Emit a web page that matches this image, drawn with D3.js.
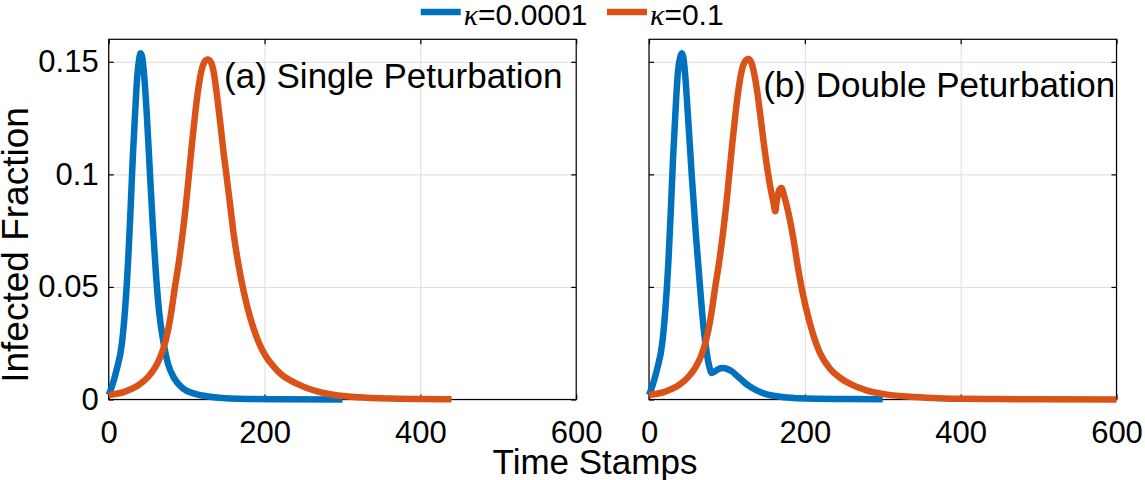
<!DOCTYPE html>
<html>
<head>
<meta charset="utf-8">
<script src="https://cdn.jsdelivr.net/npm/d3@7"></script>
<style>
	body { margin: 0; background: #fff; }
	svg text { font-family: "Liberation Sans", Arial, Helvetica, sans-serif; fill: #000; }
</style>
</head>
<body>
<div id="chart"></div>
<script>
// ----------------------------------
// DATA
// ----------------------------------

const panelTitles = ["(a) Single Peturbation", "(b) Double Peturbation"];
const kappaValues = ["0.0001", "0.1"];
const xTicks = [0, 200, 400, 600];
const yTicks = [0, 0.05, 0.1, 0.15];
const yTickLabels = ["0", "0.05", "0.1", "0.15"];

// (a) single perturbation, kappa = 0.0001
const timeSingleLow = [0, 4, 10, 17, 21, 23, 25, 28, 31, 34, 37, 39, 41, 43, 45, 49, 53, 57, 61, 65, 70, 76, 84, 95, 110, 130, 150, 180, 220, 300];
const infSingleLow = [0.002, 0.0057, 0.013, 0.025, 0.04, 0.05, 0.062, 0.084, 0.108, 0.128, 0.145, 0.151, 0.1538, 0.152, 0.146, 0.126, 0.1, 0.075, 0.054, 0.038, 0.026, 0.016, 0.0095, 0.005, 0.0026, 0.0012, 0.0006, 0.0002, 0.0001, 0.00003];

// (a) single perturbation, kappa = 0.1
const timeSingleHigh = [0, 20, 40, 50, 60, 67, 73, 79, 85, 90, 95, 99, 103, 107, 111, 115, 119, 123, 127, 131, 135, 139, 143.5, 147, 151, 156, 161, 166, 172, 178, 185, 193, 202, 212, 222, 233, 244, 255, 270, 290, 320, 360, 400, 440];
const infSingleHigh = [0.002, 0.0034, 0.0068, 0.0098, 0.0145, 0.0195, 0.026, 0.036, 0.05, 0.061, 0.074, 0.086, 0.1, 0.114, 0.127, 0.138, 0.146, 0.15, 0.151, 0.15, 0.145, 0.135, 0.122, 0.111, 0.1, 0.086, 0.072, 0.061, 0.05, 0.041, 0.0325, 0.025, 0.019, 0.0145, 0.011, 0.0085, 0.0066, 0.005, 0.0034, 0.002, 0.001, 0.0004, 0.0002, 0.0001];

// (b) double perturbation, kappa = 0.0001
const timeDoubleLow = [0, 4, 10, 17, 21, 23, 25, 28, 31, 34, 37, 40, 42, 44, 46, 50, 54.8, 60, 65.5, 70, 74, 77.5, 80.5, 84, 88, 92, 96, 100, 106, 114, 123, 133, 145, 166, 200, 250, 300];
const infDoubleLow = [0.002, 0.0057, 0.013, 0.025, 0.04, 0.05, 0.062, 0.084, 0.108, 0.128, 0.145, 0.152, 0.1538, 0.152, 0.146, 0.126, 0.1, 0.074, 0.05, 0.032, 0.021, 0.0145, 0.0118, 0.0124, 0.0133, 0.0139, 0.014, 0.0136, 0.0126, 0.0102, 0.0074, 0.005, 0.003, 0.0013, 0.0004, 0.0002, 0.0001];

// (b) double perturbation, kappa = 0.1
const timeDoubleHigh = [0, 20, 40, 50, 60, 67, 73, 79, 85, 90, 95, 99, 103, 107, 111, 115, 119, 123, 127.6, 132, 136, 140, 144, 148, 153, 157, 160, 162, 163.5, 167, 170, 173, 179, 186, 191, 196, 206, 219, 232, 244.5, 260, 279, 300, 335, 370, 400, 450, 500, 600];
const infDoubleHigh = [0.002, 0.0034, 0.0068, 0.0098, 0.0145, 0.0195, 0.026, 0.036, 0.05, 0.061, 0.074, 0.086, 0.1, 0.114, 0.127, 0.138, 0.146, 0.15, 0.1512, 0.149, 0.143, 0.134, 0.123, 0.112, 0.1, 0.092, 0.087, 0.0836, 0.087, 0.093, 0.094, 0.091, 0.0828, 0.07, 0.059, 0.0494, 0.0345, 0.021, 0.0138, 0.0098, 0.0066, 0.0041, 0.0025, 0.0012, 0.0006, 0.0003, 0.0002, 0.0001, 0.00005];

const colors = ["#0072BD", "#D95319"];

// ----------------------------------
// LAYOUT
// ----------------------------------

const width = 1145, height = 480;
const plotTop = 39.3, plotBottom = 399.5;
const panelLeft = [108.7, 649];
const panelWidth = 467.5;
const innerHeight = plotBottom - plotTop;

const panels = [
	{ title: panelTitles[0], labelAt: [148, 0.1383], showYLabels: true,
		series: [ { t: timeSingleLow, v: infSingleLow }, { t: timeSingleHigh, v: infSingleHigh } ] },
	{ title: panelTitles[1], labelAt: [146.5, 0.1345], showYLabels: false,
		series: [ { t: timeDoubleLow, v: infDoubleLow }, { t: timeDoubleHigh, v: infDoubleHigh } ] }
];

const svg = d3.select("#chart")
	.append("svg")
	.attr("width", width)
	.attr("height", height);

const xScale = d3.scaleLinear().domain([0, 600]).range([0, panelWidth]);
const yScale = d3.scaleLinear().domain([0, 0.16]).range([innerHeight, 0]);

const line = d3.line()
	.x(d => xScale(d[0]))
	.y(d => yScale(d[1]))
	.curve(d3.curveMonotoneX);

// strip an axis down to its tick lines only
function linesOnly(sel, color, w){
	sel.select(".domain").remove();
	sel.selectAll("text").remove();
	sel.selectAll("line").attr("stroke", color).attr("stroke-width", w);
}

panels.forEach((p, i) => {
	const g = svg.append("g")
		.attr("transform", `translate(${panelLeft[i]},${plotTop})`);

	// grid lines
	g.append("g")
		.attr("transform", `translate(0,${innerHeight})`)
		.call(d3.axisBottom(xScale).tickValues(xTicks).tickSize(-innerHeight))
		.call(linesOnly, "#dcdcdc", 1);
	g.append("g")
		.call(d3.axisLeft(yScale).tickValues(yTicks).tickSize(-panelWidth))
		.call(linesOnly, "#dcdcdc", 1);

	// box
	g.append("rect")
		.attr("width", panelWidth)
		.attr("height", innerHeight)
		.attr("fill", "none")
		.attr("stroke", "#000")
		.attr("stroke-width", 1.2);

	// inward ticks, all four sides
	const tickLen = 5;
	g.append("g").attr("transform", `translate(0,${innerHeight})`)
		.call(d3.axisBottom(xScale).tickValues(xTicks).tickSize(-tickLen))
		.call(linesOnly, "#000", 1.2);
	g.append("g")
		.call(d3.axisTop(xScale).tickValues(xTicks).tickSize(-tickLen))
		.call(linesOnly, "#000", 1.2);
	g.append("g")
		.call(d3.axisLeft(yScale).tickValues(yTicks).tickSize(-tickLen))
		.call(linesOnly, "#000", 1.2);
	g.append("g").attr("transform", `translate(${panelWidth},0)`)
		.call(d3.axisRight(yScale).tickValues(yTicks).tickSize(-tickLen))
		.call(linesOnly, "#000", 1.2);

	// tick labels
	g.append("g").attr("transform", `translate(0,${innerHeight})`)
		.call(d3.axisBottom(xScale).tickValues(xTicks).tickSize(0).tickPadding(21))
		.call(a => a.select(".domain").remove())
		.selectAll("text").style("font-size", "31px").attr("fill", "#000");

	if (p.showYLabels) {
		g.append("g")
			.call(d3.axisLeft(yScale).tickValues(yTicks).tickSize(0).tickPadding(10)
				.tickFormat((d, k) => yTickLabels[k]))
			.call(a => a.select(".domain").remove())
			.selectAll("text").style("font-size", "31px").attr("fill", "#000");
	}

	// curves
	p.series.forEach((s, k) => {
		g.append("path")
			.datum(s.t.map((t, j) => [t, s.v[j]]))
			.attr("d", line)
			.attr("fill", "none")
			.attr("stroke", colors[k])
			.attr("stroke-width", 6.5)
			.attr("stroke-linejoin", "round");
	});

	// panel title
	g.append("text")
		.attr("x", xScale(p.labelAt[0]))
		.attr("y", yScale(p.labelAt[1]))
		.style("font-size", "35px")
		.text(p.title);
});

// ----------------------------------
// AXIS LABELS
// ----------------------------------

svg.append("text")
	.attr("x", 595)
	.attr("y", 474)
	.attr("text-anchor", "middle")
	.style("font-size", "35px")
	.text("Time Stamps");

svg.append("text")
	.attr("transform", "translate(28,245) rotate(-90)")
	.attr("text-anchor", "middle")
	.style("font-size", "37px")
	.text("Infected Fraction");

// ----------------------------------
// LEGEND
// ----------------------------------

const legendX = [420.7, 607];
const legend = svg.append("g");
kappaValues.forEach((k, i) => {
	legend.append("line")
		.attr("x1", legendX[i]).attr("x2", legendX[i] + 40)
		.attr("y1", 12).attr("y2", 12)
		.attr("stroke", colors[i])
		.attr("stroke-width", 6.5);
	const t = legend.append("text")
		.attr("x", legendX[i] + 43)
		.attr("y", 25)
		.style("font-size", "30px");
	t.append("tspan")
		.style("font-family", "'Liberation Serif', 'DejaVu Serif', serif")
		.style("font-style", "italic")
		.text("κ");
	t.append("tspan").text("=" + k);
});
</script>
</body>
</html>
